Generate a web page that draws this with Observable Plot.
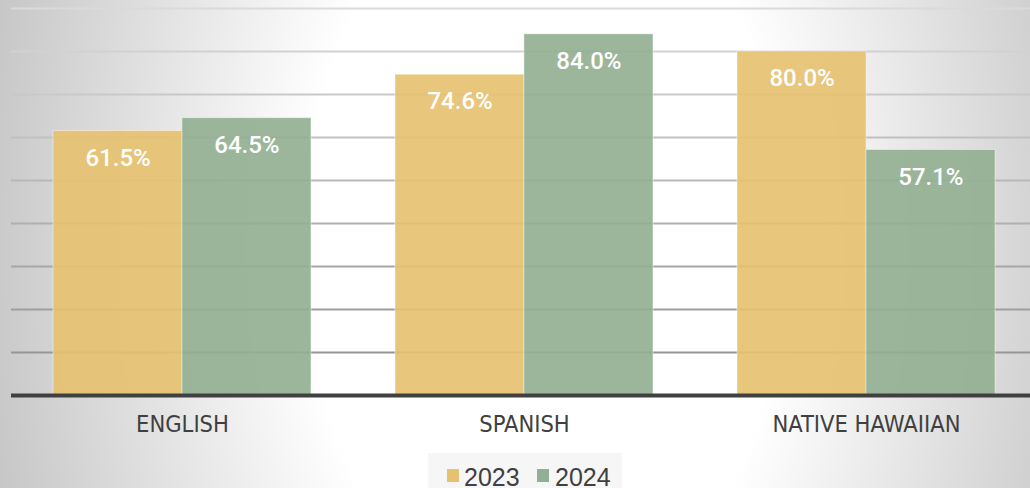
<!DOCTYPE html>
<html>
<head>
<meta charset="utf-8">
<script src="https://cdn.jsdelivr.net/npm/d3@7"></script>
<script src="https://cdn.jsdelivr.net/npm/@observablehq/plot@0.6"></script>
<style>
  html, body { margin: 0; padding: 0; }
  #wrap {
    position: relative; width: 1030px; height: 488px; overflow: hidden;
    background: radial-gradient(ellipse 570px 900px at 545px 244px, #ffffff 0%, #ffffff 42%, #c6c6c6 100%);
    font-family: "Liberation Sans", Arial, sans-serif;
  }
  #chart svg { display: block; background: transparent; }
  #legendBox { position: absolute; left: 428px; top: 453px; width: 194px; height: 35px; background: rgba(238,238,238,0.55); }
  .sw { position: absolute; width: 12px; height: 13px; }
  .lt { position: absolute; font-size: 25px; line-height: 20px; color: #404040; }
</style>
</head>
<body>
<div id="wrap">
  <div id="chart"></div>
  <div id="legendBox"></div>
  <div class="sw" id="sw0" style="left:447px;top:469px;"></div>
  <div class="lt" id="lt0" style="left:464px;top:466.5px;"></div>
  <div class="sw" id="sw1" style="left:537px;top:469px;"></div>
  <div class="lt" id="lt1" style="left:555px;top:466.5px;"></div>
</div>
<script>
const categories = ["ENGLISH", "SPANISH", "NATIVE HAWAIIAN"];
const years = ["2023", "2024"];
const values2023 = [61.5, 74.6, 80.0];
const values2024 = [64.5, 84.0, 57.1];
const yTicks = [10, 20, 30, 40, 50, 60, 70, 80, 90];
const colors = ["#e6c16f", "#93af93"];

const rows = [];
categories.forEach((c, i) => {
  rows.push({category: c, year: years[0], value: values2023[i]});
  rows.push({category: c, year: years[1], value: values2024[i]});
});
const r23 = rows.filter(d => d.year === years[0]);
const r24 = rows.filter(d => d.year === years[1]);

const half = 128.9;
const labelFont = "Roboto, 'Liberation Sans', sans-serif";
const chart = Plot.plot({
  width: 1030,
  height: 453,
  marginTop: 8,
  marginBottom: 58,
  marginLeft: 11,
  marginRight: 0,
  style: {background: "transparent", fontFamily: "Liberation Sans, Arial, sans-serif"},
  x: {type: "band", domain: categories, range: [10.5, 1037.3], paddingInner: 0.247, paddingOuter: 0.1235, label: null},
  y: {domain: [0, 90], axis: null},
  marks: [
    Plot.ruleY(yTicks, {stroke: "url(#gridGrad)", strokeWidth: 2}),
    Plot.barY(r23, {x: "category", y: "value", fill: colors[0], fillOpacity: 0.915, insetRight: half, stroke: "#ffffff", strokeOpacity: 0.45, strokeWidth: 1}),
    Plot.barY(r24, {x: "category", y: "value", fill: colors[1], fillOpacity: 0.915, insetLeft: half, stroke: "#ffffff", strokeOpacity: 0.45, strokeWidth: 1}),
    Plot.text(r23, {x: "category", y: "value", text: d => d.value.toFixed(1) + "%", dx: -64.4, dy: 27, fill: "white", fontSize: 24, fontWeight: 500, fontFamily: labelFont}),
    Plot.text(r24, {x: "category", y: "value", text: d => d.value.toFixed(1) + "%", dx: 64.4, dy: 27, fill: "white", fontSize: 24, fontWeight: 500, fontFamily: labelFont}),
    Plot.ruleY([0], {stroke: "#404040", strokeWidth: 4}),
    Plot.axisX({tickSize: 0, tickPadding: 20, fontSize: 23.5, fill: "#404040", fontFamily: "'Liberation Sans Narrow', 'Arial Narrow', 'DejaVu Sans Condensed', sans-serif", label: null})
  ]
});

const defs = d3.select(chart).insert("defs", ":first-child");
const g = defs.append("linearGradient").attr("id", "gridGrad")
  .attr("gradientUnits", "userSpaceOnUse").attr("x1", 0).attr("y1", 8).attr("x2", 0).attr("y2", 352);
g.append("stop").attr("offset", "0%").attr("stop-color", "#dadada");
g.append("stop").attr("offset", "100%").attr("stop-color", "#969696");

document.getElementById("chart").appendChild(chart);
years.forEach((y, i) => {
  document.getElementById("sw" + i).style.background = colors[i];
  document.getElementById("lt" + i).textContent = y;
});
</script>
</body>
</html>
